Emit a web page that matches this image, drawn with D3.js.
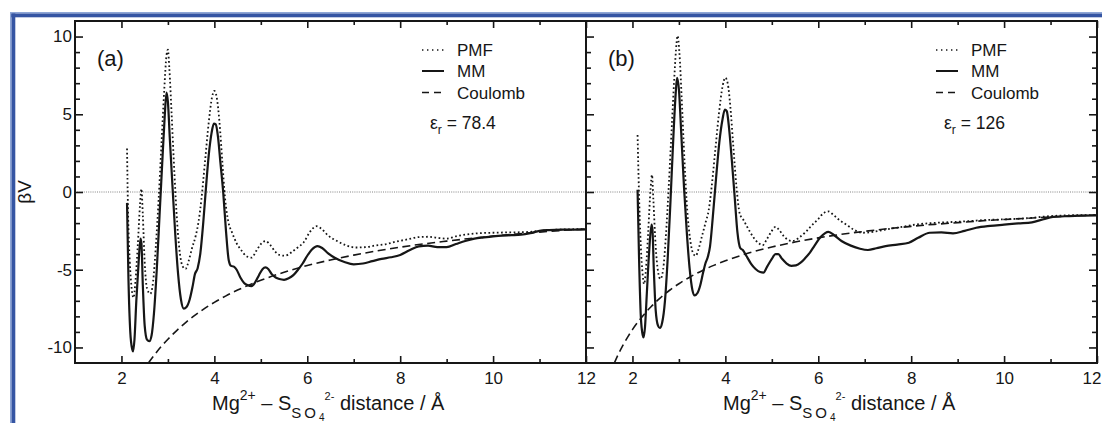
<!DOCTYPE html>
<html><head><meta charset="utf-8">
<script src="https://d3js.org/d3.v7.min.js"></script>
<style>html,body{margin:0;padding:0;background:#fff;}svg{display:block;}</style>
</head><body><svg id="c" width="1102" height="423"></svg>
<script>
// ---------- data ----------
const xTicks = [2,3,4,5,6,7,8,9,10,11,12];
const xLabels = [2,4,6,8,10,12];
const yTicks = [-10,-9,-8,-7,-6,-5,-4,-3,-2,-1,0,1,2,3,4,5,6,7,8,9,10];
const yLabels = [-10,-5,0,5,10];
const seriesNames = ["PMF","MM","Coulomb"];
const panelLabels = ["(a)","(b)"];
const epsValues = ["78.4","126"];

// panel (a)  eps_r = 78.4
const pmfA_r = [2.12,2.14,2.18,2.22,2.26,2.30,2.35,2.40,2.43,2.46,2.50,2.55,2.62,2.68,2.74,2.80,2.86,2.92,2.97,3.00,3.03,3.08,3.14,3.20,3.26,3.32,3.38,3.45,3.52,3.60,3.66,3.72,3.80,3.88,3.95,4.00,4.05,4.11,4.17,4.23,4.30,4.38,4.48,4.58,4.70,4.80,4.90,5.00,5.10,5.20,5.30,5.40,5.52,5.65,5.80,5.92,6.05,6.20,6.30,6.45,6.64,6.85,7.05,7.25,7.45,7.70,7.90,8.15,8.40,8.60,8.80,9.00,9.20,9.45,9.70,10.00,10.30,10.70,11.00,11.30,11.70,12.00];
const pmfA_v = [2.8,-1.0,-4.5,-6.2,-6.8,-5.8,-3.5,-0.8,0.2,-1.5,-4.5,-6.2,-6.55,-5.8,-3.5,-0.5,3.0,6.5,8.8,9.15,8.0,5.0,1.2,-2.0,-4.0,-4.8,-4.95,-4.4,-3.6,-2.8,-1.9,-0.5,2.0,4.5,6.1,6.5,6.1,4.5,2.0,-0.4,-1.9,-2.6,-3.3,-3.75,-4.15,-4.22,-3.8,-3.35,-3.15,-3.4,-3.8,-4.05,-4.1,-3.9,-3.55,-3.25,-2.6,-2.2,-2.35,-2.8,-3.15,-3.45,-3.57,-3.55,-3.45,-3.35,-3.2,-3.05,-2.9,-2.88,-2.95,-3.0,-2.85,-2.72,-2.65,-2.62,-2.6,-2.58,-2.5,-2.43,-2.4,-2.38];
const mmA_r = [2.12,2.15,2.19,2.23,2.25,2.28,2.32,2.37,2.41,2.43,2.46,2.50,2.55,2.60,2.65,2.70,2.76,2.82,2.88,2.93,2.97,3.00,3.04,3.10,3.16,3.22,3.28,3.34,3.40,3.47,3.53,3.58,3.64,3.70,3.76,3.82,3.88,3.94,3.99,4.03,4.08,4.13,4.19,4.25,4.31,4.36,4.42,4.48,4.56,4.64,4.72,4.80,4.88,4.96,5.04,5.10,5.16,5.24,5.32,5.40,5.50,5.60,5.70,5.80,5.90,6.00,6.10,6.22,6.32,6.45,6.60,6.80,7.00,7.20,7.40,7.60,7.80,8.00,8.20,8.40,8.60,8.80,9.00,9.20,9.40,9.60,9.80,10.00,10.20,10.40,10.60,10.80,11.00,11.20,11.50,11.80,12.00];
const mmA_v = [-0.7,-5.5,-9.0,-10.1,-10.25,-9.5,-7.0,-4.5,-3.0,-3.3,-6.0,-8.6,-9.5,-9.6,-9.2,-7.8,-5.0,-1.5,2.0,4.8,6.4,5.8,3.5,0.3,-2.8,-5.3,-6.9,-7.5,-7.4,-6.9,-6.1,-5.3,-4.9,-3.9,-2.0,0.3,2.4,3.8,4.4,4.35,3.5,1.9,0.0,-2.5,-4.4,-4.75,-4.8,-5.0,-5.5,-5.85,-6.0,-6.05,-5.8,-5.35,-4.95,-4.85,-4.95,-5.3,-5.5,-5.6,-5.65,-5.55,-5.35,-5.0,-4.6,-4.1,-3.7,-3.48,-3.6,-3.95,-4.25,-4.5,-4.65,-4.6,-4.45,-4.3,-4.2,-4.05,-3.75,-3.5,-3.45,-3.55,-3.55,-3.35,-3.15,-3.0,-2.92,-2.85,-2.8,-2.78,-2.75,-2.65,-2.5,-2.45,-2.42,-2.42,-2.40];
const coulA_r = [2.58,2.7,2.85,3.0,3.2,3.4,3.6,3.8,4.0,4.25,4.5,4.75,5.0,5.5,6.0,6.5,7.0,7.5,8.0,8.5,9.0,9.5,10.0,10.5,11.0,11.5,12.0];
const coulA_v = [-11.0,-10.52,-9.96,-9.47,-8.88,-8.35,-7.89,-7.47,-7.1,-6.68,-6.31,-5.98,-5.68,-5.16,-4.73,-4.37,-4.06,-3.79,-3.55,-3.34,-3.16,-2.99,-2.84,-2.70,-2.58,-2.47,-2.37];

// panel (b)  eps_r = 126
const pmfB_r = [2.11,2.14,2.18,2.22,2.25,2.29,2.34,2.39,2.42,2.45,2.50,2.55,2.60,2.66,2.72,2.78,2.84,2.90,2.95,2.97,3.01,3.06,3.12,3.18,3.24,3.30,3.36,3.43,3.50,3.58,3.64,3.70,3.78,3.86,3.94,4.00,4.05,4.11,4.17,4.24,4.31,4.38,4.48,4.60,4.72,4.80,4.90,5.00,5.08,5.16,5.26,5.36,5.45,5.58,5.72,5.86,5.99,6.10,6.21,6.32,6.45,6.60,6.78,6.96,7.20,7.46,7.80,8.11,8.45,8.82,9.20,9.54,9.90,10.26,10.60,11.00,11.40,11.70,12.00];
const pmfB_v = [3.66,0.0,-3.5,-5.3,-5.92,-5.0,-2.5,0.2,1.1,-0.5,-3.5,-5.1,-5.6,-5.0,-2.8,0.3,3.8,7.3,9.6,10.05,9.0,6.0,2.0,-1.2,-3.0,-3.9,-4.11,-3.6,-2.8,-1.9,-1.2,0.2,2.6,5.0,6.8,7.35,7.0,5.4,3.0,0.3,-1.4,-1.75,-2.3,-2.9,-3.3,-3.43,-3.0,-2.5,-2.24,-2.45,-2.85,-3.1,-3.15,-2.95,-2.6,-2.15,-1.77,-1.4,-1.24,-1.45,-1.8,-2.09,-2.45,-2.62,-2.55,-2.41,-2.25,-2.09,-2.0,-1.94,-1.88,-1.81,-1.77,-1.73,-1.66,-1.55,-1.5,-1.49,-1.48];
const mmB_r = [2.11,2.14,2.18,2.22,2.24,2.27,2.31,2.36,2.41,2.43,2.46,2.50,2.55,2.59,2.64,2.70,2.76,2.82,2.88,2.93,2.96,3.00,3.05,3.11,3.17,3.23,3.29,3.34,3.40,3.46,3.52,3.57,3.62,3.67,3.73,3.80,3.87,3.94,3.99,4.03,4.08,4.14,4.20,4.26,4.32,4.38,4.45,4.55,4.65,4.75,4.82,4.90,5.00,5.08,5.14,5.22,5.32,5.42,5.52,5.62,5.72,5.82,5.92,6.05,6.22,6.35,6.50,6.70,6.90,7.07,7.25,7.45,7.70,7.95,8.15,8.40,8.65,8.90,9.15,9.40,9.70,10.00,10.30,10.60,10.85,11.05,11.40,11.70,12.00];
const mmB_v = [0.15,-4.0,-8.0,-9.2,-9.35,-8.7,-6.5,-3.8,-2.1,-2.4,-5.0,-7.6,-8.6,-8.75,-8.4,-7.0,-4.2,-0.5,3.5,6.3,7.35,6.6,3.8,0.3,-2.6,-4.9,-6.3,-6.65,-6.5,-6.0,-5.2,-4.6,-4.2,-3.5,-1.6,0.9,3.2,4.7,5.3,5.2,4.1,2.0,-0.3,-2.6,-3.6,-3.75,-4.1,-4.6,-4.95,-5.15,-5.18,-4.8,-4.3,-4.0,-4.0,-4.3,-4.6,-4.75,-4.72,-4.55,-4.25,-3.9,-3.45,-2.9,-2.56,-2.8,-3.15,-3.45,-3.65,-3.73,-3.62,-3.48,-3.38,-3.26,-2.95,-2.62,-2.6,-2.66,-2.5,-2.3,-2.18,-2.1,-2.02,-1.95,-1.75,-1.6,-1.55,-1.52,-1.5];
const coulB_r = [1.61,1.7,1.8,1.9,2.0,2.2,2.4,2.6,2.8,3.0,3.25,3.5,3.75,4.0,4.5,5.0,5.5,6.0,6.5,7.0,7.5,8.0,8.5,9.0,9.5,10.0,10.5,11.0,11.5,12.0];
const coulB_v = [-11.0,-10.41,-9.83,-9.32,-8.85,-8.05,-7.38,-6.81,-6.32,-5.9,-5.45,-5.06,-4.72,-4.43,-3.93,-3.54,-3.22,-2.95,-2.72,-2.53,-2.36,-2.21,-2.08,-1.97,-1.86,-1.77,-1.69,-1.61,-1.54,-1.48];

// ---------- drawing ----------
const svg = d3.select("#c");
const FONT = "'Liberation Sans', Arial, Helvetica, sans-serif";
const INK = "#161616";
const yTop = 21, yBot = 363;
const y = d3.scaleLinear().domain([-11, 11]).range([yBot, yTop]);

// blue frame
svg.append("rect").attr("x", 10).attr("y", 12).attr("width", 1092).attr("height", 1.5).attr("fill", "#8ea6d6");
svg.append("rect").attr("x", 10).attr("y", 13.5).attr("width", 1092).attr("height", 3.8).attr("fill", "#3555a3");
svg.append("rect").attr("x", 10).attr("y", 12).attr("width", 1.5).attr("height", 411).attr("fill", "#8ea6d6");
svg.append("rect").attr("x", 11.5).attr("y", 13.5).attr("width", 3.8).attr("height", 409.5).attr("fill", "#3555a3");

const panels = [
  {x0: 75, x1: 586, series: [[pmfA_r, pmfA_v], [mmA_r, mmA_v], [coulA_r, coulA_v]], right: false},
  {x0: 586, x1: 1097, series: [[pmfB_r, pmfB_v], [mmB_r, mmB_v], [coulB_r, coulB_v]], right: true}
];
const styles = [
  {w: 1.8, dash: "1.7,2.5"},
  {w: 2.2, dash: null},
  {w: 1.6, dash: "8,4.5"}
];

panels.forEach((p, pi) => {
  const x = d3.scaleLinear().domain([1, 12]).range([p.x0, p.x1]);
  const g = svg.append("g");
  const cid = "clip" + pi;
  svg.append("clipPath").attr("id", cid).append("rect")
    .attr("x", p.x0).attr("y", yTop).attr("width", p.x1 - p.x0).attr("height", yBot - yTop);

  // zero reference line
  g.append("line").attr("x1", p.x0).attr("x2", p.x1).attr("y1", y(0)).attr("y2", y(0))
    .attr("stroke", "#666").attr("stroke-width", 0.8).attr("stroke-dasharray", "1,1.2");

  const line = d3.line().x(d => x(d[0])).y(d => y(d[1])).curve(d3.curveMonotoneX);
  p.series.forEach((s, si) => {
    const pts = s[0].map((r, i) => [r, s[1][i]]);
    const path = g.append("path").attr("d", line(pts)).attr("fill", "none")
      .attr("stroke", INK).attr("stroke-width", styles[si].w)
      .attr("stroke-linejoin", "round").attr("clip-path", `url(#${cid})`);
    if (styles[si].dash) path.attr("stroke-dasharray", styles[si].dash);
  });

  // axes (ticks pointing inward)
  const major = d => d % 2 === 0;
  const bottom = d3.axisBottom(x).tickValues(xTicks).tickSizeInner(0).tickSizeOuter(0).tickFormat(d => xLabels.includes(d) ? d : "");
  const gb = svg.append("g").attr("transform", `translate(0,${yBot})`).call(bottom);
  gb.select(".domain").remove();
  gb.selectAll(".tick line").attr("y2", d => major(d) ? -7 : -4).attr("stroke", INK).attr("stroke-width", 1.6);
  gb.selectAll(".tick text").attr("y", 9).attr("dy", "0.71em").attr("font-size", 17).attr("font-family", FONT).attr("fill", INK);
  if (pi === 1) gb.selectAll(".tick text").filter(d => d === 12).attr("text-anchor", "end").attr("x", 4);

  const gt = svg.append("g").attr("transform", `translate(0,${yTop})`).call(d3.axisTop(x).tickValues(xTicks).tickSizeInner(0).tickSizeOuter(0).tickFormat(""));
  gt.select(".domain").remove();
  gt.selectAll(".tick line").attr("y2", d => major(d) ? 7 : 4).attr("stroke", INK).attr("stroke-width", 1.6);

  const maj5 = d => d % 5 === 0;
  const gl = svg.append("g").attr("transform", `translate(${p.x0},0)`)
    .call(d3.axisLeft(y).tickValues(yTicks).tickSizeInner(0).tickSizeOuter(0).tickFormat(d => (pi === 0 && yLabels.includes(d)) ? d : ""));
  gl.select(".domain").remove();
  gl.selectAll(".tick line").attr("x2", d => maj5(d) ? 8 : 5).attr("stroke", INK).attr("stroke-width", 1.6);
  gl.selectAll(".tick text").attr("x", -3).attr("font-size", 17).attr("font-family", FONT).attr("fill", INK);

  if (p.right) {
    const gr = svg.append("g").attr("transform", `translate(${p.x1},0)`)
      .call(d3.axisRight(y).tickValues(yTicks).tickSizeInner(0).tickSizeOuter(0).tickFormat(""));
    gr.select(".domain").remove();
    gr.selectAll(".tick line").attr("x2", d => maj5(d) ? -8 : -5).attr("stroke", INK).attr("stroke-width", 1.6);
  }

  // frame
  svg.append("rect").attr("x", p.x0).attr("y", yTop).attr("width", p.x1 - p.x0).attr("height", yBot - yTop)
    .attr("fill", "none").attr("stroke", INK).attr("stroke-width", 2);

  // panel label
  svg.append("text").attr("x", p.x0 + 22).attr("y", 66).attr("font-size", 22).attr("font-family", FONT)
    .attr("fill", INK).text(panelLabels[pi]);

  // legend
  const lx = p.x0 + (pi === 0 ? 347 : 350);
  const ly = [50, 71, 92.5];
  seriesNames.forEach((nm, si) => {
    const l = svg.append("line").attr("x1", lx).attr("x2", lx + 22).attr("y1", ly[si]).attr("y2", ly[si])
      .attr("stroke", INK).attr("stroke-width", si === 0 ? 1.4 : (si === 1 ? 2 : 1.6));
    if (si === 0) l.attr("stroke-dasharray", "1.4,3.6");
    if (si === 2) l.attr("stroke-dasharray", "7,5");
    svg.append("text").attr("x", lx + 35).attr("y", ly[si]).attr("dy", "0.36em")
      .attr("font-size", 17).attr("font-family", FONT).attr("fill", INK).text(nm);
  });
  const et = svg.append("text").attr("x", lx + 8).attr("y", 129).attr("font-size", 17.5)
    .attr("font-family", FONT).attr("fill", INK);
  et.append("tspan").text("ε");
  et.append("tspan").attr("font-size", 12).attr("dy", 5).text("r");
  et.append("tspan").attr("dy", -5).text(" = " + epsValues[pi]);

  // x-axis title
  const tt = svg.append("text").attr("x", p.x0 + 137).attr("y", 410).attr("font-size", 20)
    .attr("font-family", FONT).attr("fill", INK);
  tt.append("tspan").text("Mg");
  tt.append("tspan").attr("font-size", 14).attr("dy", -10).text("2+");
  tt.append("tspan").attr("font-size", 20).attr("dy", 10).text(" – S");
  tt.append("tspan").attr("font-size", 15).attr("dy", 8).attr("letter-spacing", 3).text("SO");
  tt.append("tspan").attr("font-size", 10).attr("dy", 3).attr("letter-spacing", 0).text("4");
  tt.append("tspan").attr("font-size", 11).attr("dy", -21).text("2-");
  tt.append("tspan").attr("font-size", 20).attr("dy", 10).text(" distance / Å");
});

// y-axis title
svg.append("text").attr("transform", "translate(31,192) rotate(-90)").attr("text-anchor", "middle")
  .attr("font-size", 19).attr("font-family", FONT).attr("fill", INK).text("βV");
</script></body></html>
